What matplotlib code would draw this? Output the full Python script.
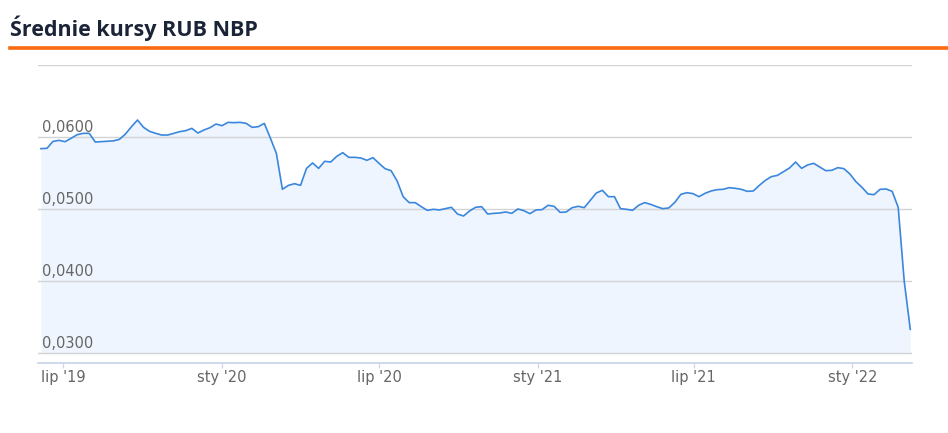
import matplotlib
matplotlib.use("Agg")
import matplotlib.pyplot as plt
import pandas as pd

# weekly NBP mid rates RUB/PLN
start_date = "2019-06-05"
rates = [
    0.05843, 0.05847, 0.05944, 0.05958, 0.05940, 0.05986, 0.06037, 0.06056,
    0.06056, 0.05935, 0.05940, 0.05944, 0.05951, 0.05972, 0.06046, 0.06148,
    0.06241, 0.06139, 0.06083, 0.06056, 0.06032, 0.06032, 0.06056, 0.06079,
    0.06093, 0.06125, 0.06060, 0.06102, 0.06134, 0.06185, 0.06162, 0.06208,
    0.06204, 0.06208, 0.06194, 0.06139, 0.06148, 0.06194, 0.05991, 0.05778,
    0.05278, 0.05333, 0.05356, 0.05333, 0.05569, 0.05644, 0.05569, 0.05667,
    0.05657, 0.05736, 0.05787, 0.05722, 0.05722, 0.05713, 0.05681, 0.05718,
    0.05639, 0.05565, 0.05537, 0.05394, 0.05176, 0.05093, 0.05093, 0.05037,
    0.04986, 0.05000, 0.04991, 0.05009, 0.05028, 0.04935, 0.04907, 0.04977,
    0.05028, 0.05037,
    0.04935, 0.04944, 0.04949, 0.04963, 0.04944, 0.05005, 0.04981, 0.04940,
    0.04991, 0.04995, 0.05056, 0.05042, 0.04958, 0.04963, 0.05023, 0.05042,
    0.05023, 0.05125, 0.05227, 0.05264, 0.05176, 0.05176, 0.05009, 0.05000,
    0.04986, 0.05056, 0.05093, 0.05069, 0.05037, 0.05009, 0.05019, 0.05097,
    0.05208, 0.05231, 0.05218, 0.05176, 0.05222, 0.05255, 0.05273, 0.05278,
    0.05301, 0.05292, 0.05278, 0.05250, 0.05255, 0.05333, 0.05403, 0.05454,
    0.05472, 0.05523, 0.05574, 0.05657, 0.05569, 0.05616, 0.05639, 0.05588,
    0.05537, 0.05542, 0.05579, 0.05565, 0.05491, 0.05384, 0.05306, 0.05213,
    0.05204, 0.05278, 0.05282, 0.05250, 0.05028, 0.04000, 0.03333,
]
dates = pd.date_range(start_date, periods=len(rates), freq="7D")

tick_dates = pd.to_datetime(["2019-07-01", "2020-01-01", "2020-07-01",
                             "2021-01-01", "2021-07-01", "2022-01-01"])
tick_labels = ["lip '19", "sty '20", "lip '20", "sty '21", "lip '21", "sty '22"]
grid_values = [0.03, 0.04, 0.05, 0.06, 0.07]
label_values = [0.03, 0.04, 0.05, 0.06]

title = "Średnie kursy RUB NBP"

fig = plt.figure(figsize=(9.48, 4.33), dpi=100)
fig.patch.set_facecolor("white")

# title + orange underline
fig.text(10 / 948, 1 - 36 / 433, title, family="Open Sans", weight="bold",
         fontsize=15.5, color="#1b2437", ha="left", va="baseline")
fig.add_artist(plt.Line2D([10 / 948, 1.0], [1 - 47.5 / 433] * 2,
                          color="#fb6a10", lw=2.6, transform=fig.transFigure))

ax = fig.add_axes([38 / 948, 70 / 433, 874 / 948, 298 / 433])
ax.set_xlim(pd.Timestamp("2019-06-01 15:00"), pd.Timestamp("2022-03-11"))
ax.set_ylim(0.02865, 0.07005)

for v in grid_values:
    ax.axhline(v, color="#d3d3d3", lw=1.0, zorder=1)

for v in label_values:
    ax.annotate(f"{v:.4f}".replace(".", ","), xy=(0, v),
                xycoords=("axes fraction", "data"), xytext=(3, 2),
                textcoords="offset points", ha="left", va="bottom",
                fontsize=10.5, color="#666666", zorder=2)

ax.fill_between(dates, rates, 0.03, color="#eef5fe", lw=0, zorder=0.5)
ax.plot(dates, rates, color="#3a87dd", lw=1.2, zorder=3)

for side in ["top", "left", "right"]:
    ax.spines[side].set_visible(False)
ax.spines["bottom"].set_color("#ccd6eb")
ax.spines["bottom"].set_linewidth(1.3)

ax.set_yticks([])
ax.set_xticks(tick_dates)
ax.set_xticklabels(tick_labels)
ax.tick_params(axis="x", direction="out", length=3.6, width=0.9,
               color="#ccd6eb", labelsize=10.5, labelcolor="#666666", pad=1.5)

fig.savefig("out.png", dpi=100)
